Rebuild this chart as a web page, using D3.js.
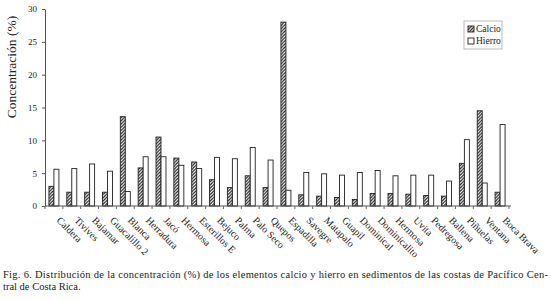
<!DOCTYPE html>
<html>
<head>
<meta charset="utf-8">
<script src="https://cdn.jsdelivr.net/npm/d3@7"></script>
<style>
  html, body { margin: 0; padding: 0; background: #fff; }
  svg { display: block; }
  text { font-family: "Liberation Serif", "DejaVu Serif", serif; fill: #222; }
</style>
</head>
<body>
<svg id="chart" width="551" height="300"></svg>
<script>
const categories = ["Caldera","Tivives","Bajamar","Guacalillo 2","Blanca","Herradura","Jacó","Hermosa",
  "Esterillos E","Bejuco","Palma","Palo Seco","Quepos","Espadilla","Savegre","Matapalo","Guapil",
  "Dominical","Dominicalito","Hermosa","Uvita","Pedregosa","Ballena","Piñuelas","Ventana","Boca Brava"];
const calcio = [3.0, 2.1, 2.1, 2.1, 13.6, 5.8, 10.5, 7.3, 6.7, 4.0, 2.8, 4.6, 2.8, 28.0, 1.7, 1.5, 1.3,
  1.0, 1.9, 1.9, 1.8, 1.6, 1.5, 6.5, 14.5, 2.1];
const hierro = [5.6, 5.7, 6.4, 5.3, 2.2, 7.5, 7.5, 6.2, 5.7, 7.4, 7.2, 8.9, 7.0, 2.4, 5.1, 4.9, 4.7,
  5.1, 5.4, 4.6, 4.7, 4.7, 3.8, 10.1, 3.5, 12.4];
const seriesNames = ["Calcio", "Hierro"];
const yTicks = [0, 5, 10, 15, 20, 25, 30];
const yTitle = "Concentración (%)";
const caption1 = "Fig. 6. Distribución de la concentración (%) de los elementos calcio y hierro en sedimentos de las costas de Pacífico Cen-";
const caption2 = "tral de Costa Rica.";

const svg = d3.select("#chart");
const mLeft = 45, mRight = 509, mTop = 9, mBottom = 206;

const defs = svg.append("defs");
defs.append("pattern")
  .attr("id", "hatch")
  .attr("patternUnits", "userSpaceOnUse")
  .attr("width", 3.2).attr("height", 3.2)
  .call(p => {
    p.append("rect").attr("width", 3.2).attr("height", 3.2).attr("fill", "#fff");
    p.append("path")
      .attr("d", "M-0.8,0.8 L0.8,-0.8 M0,3.2 L3.2,0 M2.4,4 L4,2.4")
      .attr("stroke", "#222").attr("stroke-width", 1.2);
  });

const x = d3.scaleBand().domain(d3.range(categories.length)).range([mLeft, mRight])
  .paddingInner(0.44).paddingOuter(0.22);
const x1 = d3.scaleBand().domain(seriesNames).range([0, x.bandwidth()]);
const y = d3.scaleLinear().domain([0, 30]).range([mBottom, mTop]);

const data = categories.map((c, i) => ({ i, c, vals: [calcio[i], hierro[i]] }));

// bars
const g = svg.append("g");
const groups = g.selectAll("g.cat").data(data).join("g")
  .attr("class", "cat")
  .attr("transform", d => `translate(${x(d.i)},0)`);
groups.selectAll("rect").data(d => d.vals.map((v, k) => ({ k, v }))).join("rect")
  .attr("x", d => x1(seriesNames[d.k]))
  .attr("y", d => y(d.v))
  .attr("width", x1.bandwidth())
  .attr("height", d => y(0) - y(d.v))
  .attr("fill", d => d.k === 0 ? "url(#hatch)" : "#fff")
  .attr("stroke", "#222")
  .attr("stroke-width", 0.9);

// y axis
const yAxis = svg.append("g").attr("transform", `translate(${mLeft},0)`)
  .call(d3.axisLeft(y).tickValues(yTicks).tickSize(3).tickSizeOuter(0).tickPadding(5));
yAxis.select(".domain").attr("stroke", "#555");
yAxis.selectAll(".tick line").attr("stroke", "#555");
yAxis.selectAll(".tick text").attr("font-size", 9).attr("fill", "#333")
  .attr("font-family", "Liberation Serif, serif");

// x axis
const xAxis = svg.append("g").attr("transform", `translate(0,${mBottom})`);
xAxis.append("line").attr("x1", mLeft).attr("x2", mRight + 2).attr("y1", 0).attr("y2", 0)
  .attr("stroke", "#555");
const xTickPos = d3.range(categories.length + 1).map(i => mLeft + i * x.step());
xAxis.selectAll("line.tk").data(xTickPos).join("line").attr("class", "tk")
  .attr("x1", d => d).attr("x2", d => d).attr("y1", 0).attr("y2", 3).attr("stroke", "#666");
xAxis.selectAll("text.lab").data(data).join("text").attr("class", "lab")
  .attr("font-size", 10)
  .attr("transform", d => `translate(${x(d.i) + x.bandwidth() / 2 + 2},${15}) rotate(45)`)
  .text(d => d.c);

// y title
svg.append("text")
  .attr("transform", "translate(16,67) rotate(-90)")
  .attr("text-anchor", "middle")
  .attr("font-size", 13.5)
  .text(yTitle);

// legend
const lg = svg.append("g").attr("transform", "translate(464,21)");
lg.append("rect").attr("width", 38).attr("height", 28).attr("fill", "#fff")
  .attr("stroke", "#aaa").attr("stroke-width", 0.8);
seriesNames.forEach((s, k) => {
  lg.append("rect").attr("x", 4).attr("y", 5 + k * 12).attr("width", 6).attr("height", 6)
    .attr("fill", k === 0 ? "url(#hatch)" : "#fff").attr("stroke", "#222").attr("stroke-width", 0.9);
  lg.append("text").attr("x", 12).attr("y", 11 + k * 12).attr("font-size", 9.5).text(s);
});

// caption
svg.append("text").attr("x", 3).attr("y", 278).attr("font-size", 10.5)
  .attr("textLength", 545).attr("lengthAdjust", "spacing").text(caption1);
svg.append("text").attr("x", 3).attr("y", 290).attr("font-size", 10.5).text(caption2);
</script>
</body>
</html>
